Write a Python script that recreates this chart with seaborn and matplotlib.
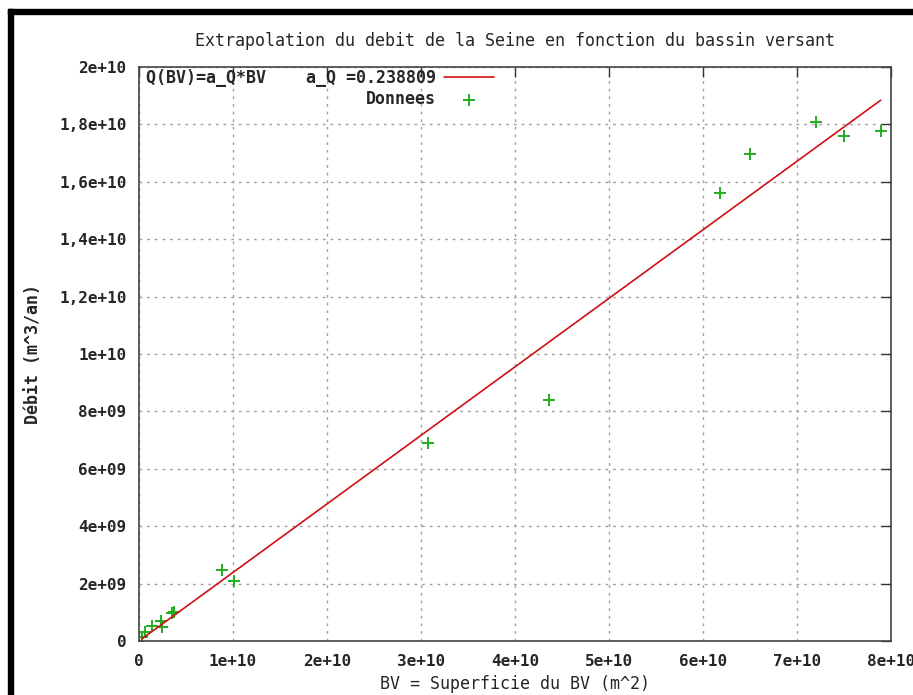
import numpy as np
import pandas as pd
import matplotlib
matplotlib.use('Agg')
import matplotlib.pyplot as plt
from matplotlib.patches import Rectangle
import seaborn as sns

# données (m^2, m^3/an)
bv = [0.03e10, 0.06e10, 0.135e10, 0.234e10, 0.24e10, 0.35e10, 0.37e10,
      0.883e10, 1.01e10, 3.07e10, 4.36e10, 6.18e10, 6.5e10, 7.2e10, 7.5e10, 7.89e10]
debit = [0.15e9, 0.32e9, 0.52e9, 0.71e9, 0.5e9, 0.99e9, 1.02e9,
         2.47e9, 2.1e9, 6.9e9, 8.4e9, 15.6e9, 16.97e9, 18.08e9, 17.6e9, 17.77e9]
a_Q = 0.238809

xticks = [0, 1e10, 2e10, 3e10, 4e10, 5e10, 6e10, 7e10, 8e10]
xlabels = ['0', '1e+10', '2e+10', '3e+10', '4e+10', '5e+10', '6e+10', '7e+10', '8e+10']
yticks = [0, 2e9, 4e9, 6e9, 8e9, 1e10, 1.2e10, 1.4e10, 1.6e10, 1.8e10, 2e10]
ylabels = ['0', '2e+09', '4e+09', '6e+09', '8e+09', '1e+10',
           '1,2e+10', '1,4e+10', '1,6e+10', '1,8e+10', '2e+10']

df = pd.DataFrame({'BV': bv, 'Q': debit})
df['fit'] = a_Q * df['BV']

sns.set_style('white')
plt.rcParams['font.family'] = ['DejaVu Sans Mono', 'DejaVu Sans']

W, H = 913, 695
fig = plt.figure(figsize=(W / 100, H / 100), dpi=100)
ax = fig.add_axes([139 / W, 1 - 641 / H, 752 / W, 574 / H])

sns.lineplot(data=df.sort_values('BV'), x='BV', y='fit', color='#d01010', lw=1.2,
             ax=ax, label='Q(BV)=a_Q*BV    a_Q =0.238809')
sns.scatterplot(data=df, x='BV', y='Q', marker='+', color='#1fae1f', s=70,
                linewidth=1.4, ax=ax, label='Donnees')

ax.set_xlim(0, 8e10)
ax.set_ylim(0, 2e10)
ax.set_xticks(xticks)
ax.set_xticklabels(xlabels)
ax.set_yticks(yticks)
ax.set_yticklabels(ylabels)
ax.tick_params(direction='in', length=7, width=1, top=True, right=True,
               labeltop=False, labelright=False, labelsize=11.5,
               color='#333333')
ax.tick_params(axis='x', pad=9)
ax.tick_params(axis='y', pad=9)
for lab in ax.get_xticklabels() + ax.get_yticklabels():
    lab.set_fontweight('bold')
ax.grid(True, color='#a0a0a0', linestyle=(0, (2, 3.5)), linewidth=1)
for sp in ax.spines.values():
    sp.set_color('#444444')
    sp.set_linewidth(1.2)

ax.set_xlabel('BV = Superficie du BV (m^2)', fontsize=12, labelpad=5)
ax.set_ylabel('Débit (m^3/an)', fontsize=12, fontweight='bold', labelpad=12)
ax.set_title('Extrapolation du debit de la Seine en fonction du bassin versant',
             fontsize=12, pad=15)

leg = ax.legend(loc='upper left', bbox_to_anchor=(0.009, 0.9965), frameon=False,
                markerfirst=False, handlelength=3, handletextpad=0.5,
                labelspacing=0.2, borderpad=0, borderaxespad=0,
                prop={'family': 'DejaVu Sans Mono', 'size': 12, 'weight': 'bold'})

# cadre noir de la fenêtre (haut et gauche)
fig.patches.append(Rectangle((8 / W, 1 - 14 / H), 1, 5 / H, transform=fig.transFigure,
                             color='black', zorder=10))
fig.patches.append(Rectangle((8 / W, 0), 5 / W, 1 - 9 / H, transform=fig.transFigure,
                             color='black', zorder=10))

fig.savefig('out.png', dpi=100)
